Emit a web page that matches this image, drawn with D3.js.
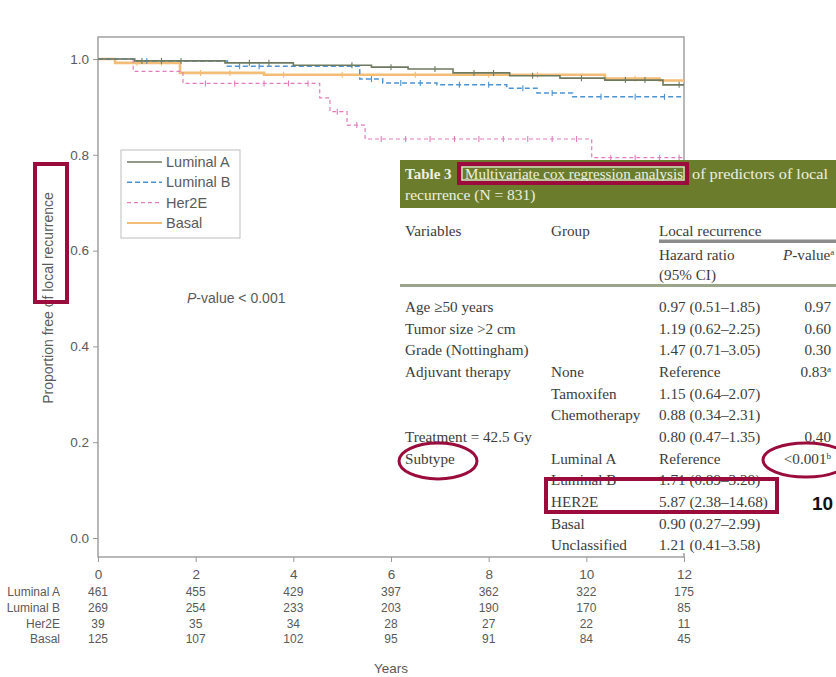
<!DOCTYPE html>
<html>
<head>
<meta charset="utf-8">
<script src="https://cdn.jsdelivr.net/npm/d3@7"></script>
<style>
  html, body { margin: 0; padding: 0; background: #fff; }
  svg { display: block; }
</style>
</head>
<body>
<svg id="chart" width="836" height="677"></svg>
<script>
// ---- Kaplan-Meier curves: event times (years) and survival proportions ----
const subtypes = ["Luminal A", "Luminal B", "Her2E", "Basal"];
const lumATimes = [0, 0.75, 2.6, 4.0, 5.6, 6.35, 7.27, 8.43, 9.46, 10.38, 11.57];
const lumAProps = [1.0, 0.996, 0.992, 0.987, 0.983, 0.979, 0.971, 0.965, 0.960, 0.956, 0.946];
const lumBTimes = [0, 0.75, 2.65, 5.36, 5.83, 6.94, 8.37, 8.99, 9.72];
const lumBProps = [1.0, 0.996, 0.985, 0.958, 0.950, 0.946, 0.939, 0.929, 0.921];
const her2eTimes = [0, 0.72, 1.74, 4.54, 4.75, 5.10, 5.47, 10.11];
const her2eProps = [1.0, 0.974, 0.949, 0.919, 0.890, 0.862, 0.833, 0.794];
const basalTimes = [0, 0.35, 1.68, 3.4, 10.38, 11.5];
const basalProps = [1.0, 0.992, 0.971, 0.967, 0.959, 0.955];

// censoring times
const lumACensor = [0.9, 1.3, 1.7, 3.1, 3.5, 5.2, 6.0, 6.9, 7.7, 8.1, 8.9, 9.9, 10.8, 11.2, 11.9];
const lumBCensor = [1.0, 2.9, 3.3, 5.6, 6.2, 6.6, 7.4, 8.0, 8.7, 9.3, 10.3, 11.0, 11.6];
const her2eCensor = [2.2, 2.8, 3.4, 3.9, 4.3, 4.9, 5.3, 5.8, 6.3, 6.8, 7.3, 7.8, 8.3, 8.8, 9.3, 9.8, 10.5, 11.0, 11.5, 11.9];
const basalCensor = [0.8, 1.3, 2.1, 2.7, 3.8, 5.0, 6.5, 8.0, 9.0, 11.0];

// ---- axes ----
const xTicks = [0, 2, 4, 6, 8, 10, 12];
const yTicks = [0.0, 0.2, 0.4, 0.6, 0.8, 1.0];

// ---- numbers at risk ----
const atRiskLumA = [461, 455, 429, 397, 362, 322, 175];
const atRiskLumB = [269, 254, 233, 203, 190, 170, 85];
const atRiskHer2E = [39, 35, 34, 28, 27, 22, 11];
const atRiskBasal = [125, 107, 102, 95, 91, 84, 45];

const pValueText = "P-value < 0.001";

// ---- Cox regression table ----
const tableLabel = "Table 3";
const tableTitleHighlight = "Multivariate cox regression analysis";
const tableTitleRest = "of predictors of local";
const tableTitleLine2 = "recurrence (N = 831)";
const tableVariables = ["Age \u226550 years", "Tumor size >2 cm", "Grade (Nottingham)", "Adjuvant therapy", "", "", "Treatment = 42.5 Gy", "Subtype", "", "", "", ""];
const tableGroups = ["", "", "", "None", "Tamoxifen", "Chemotherapy", "", "Luminal A", "Luminal B", "HER2E", "Basal", "Unclassified"];
const tableHazard = ["0.97 (0.51\u20131.85)", "1.19 (0.62\u20132.25)", "1.47 (0.71\u20133.05)", "Reference", "1.15 (0.64\u20132.07)", "0.88 (0.34\u20132.31)", "0.80 (0.47\u20131.35)", "Reference", "1.71 (0.89\u20133.28)", "5.87 (2.38\u201314.68)", "0.90 (0.27\u20132.99)", "1.21 (0.41\u20133.58)"];
const tablePValue = ["0.97", "0.60", "0.30", "0.83", "", "", "0.40", "<0.001", "", "", "", ""];
const tablePSup = ["", "", "", "a", "", "", "", "b", "", "", "", ""];

const svg = d3.select("#chart");
const sans = "'Liberation Sans', Arial, sans-serif";
const serif = "'Liberation Serif', 'Times New Roman', serif";
const grey = "#5a5a5a";

const plot = { left: 98, right: 684, top: 37, bottom: 557 };
const x = d3.scaleLinear().domain([0, 12]).range([98, 684]);
const y = d3.scaleLinear().domain([0, 1]).range([538, 59]);

const series = [
  { name: subtypes[0], t: lumATimes, s: lumAProps, c: lumACensor, color: "#6d7a5f", width: 1.6, dash: null },
  { name: subtypes[1], t: lumBTimes, s: lumBProps, c: lumBCensor, color: "#4d93d3", width: 1.5, dash: "5,3" },
  { name: subtypes[2], t: her2eTimes, s: her2eProps, c: her2eCensor, color: "#e47cbc", width: 1.2, dash: "4,3" },
  { name: subtypes[3], t: basalTimes, s: basalProps, c: basalCensor, color: "#f3bd78", width: 2.6, dash: null }
];

// plot frame
svg.append("rect")
  .attr("x", plot.left).attr("y", plot.top)
  .attr("width", plot.right - plot.left).attr("height", plot.bottom - plot.top)
  .attr("fill", "none").attr("stroke", "#9a9a9a").attr("stroke-width", 1.4);

// curves (basal first so the thinner lines sit on top)
const line = d3.line().x(d => x(d[0])).y(d => y(d[1])).curve(d3.curveStepAfter);
[3, 2, 1, 0].forEach(i => {
  const sr = series[i];
  const pts = sr.t.map((t, k) => [t, sr.s[k]]);
  pts.push([12, sr.s[sr.s.length - 1]]);
  svg.append("path")
    .attr("d", line(pts))
    .attr("fill", "none")
    .attr("stroke", sr.color)
    .attr("stroke-width", sr.width)
    .attr("stroke-dasharray", sr.dash);
  const survAt = tt => { let v = sr.s[0]; sr.t.forEach((t, k) => { if (t <= tt) v = sr.s[k]; }); return v; };
  svg.append("g").selectAll("line").data(sr.c).join("line")
    .attr("x1", d => x(d)).attr("x2", d => x(d))
    .attr("y1", d => y(survAt(d)) - 3).attr("y2", d => y(survAt(d)) + 3)
    .attr("stroke", sr.color).attr("stroke-width", 1.1);
});

// y axis
const yAxis = svg.append("g").attr("transform", `translate(${plot.left},0)`)
  .call(d3.axisLeft(y).tickValues(yTicks).tickFormat(d3.format(".1f")).tickSize(5).tickPadding(4));
yAxis.select(".domain").remove();
yAxis.selectAll("line").attr("stroke", "#9a9a9a");
yAxis.selectAll("text").attr("font-family", sans).attr("font-size", 13.5).attr("fill", grey);

// x axis
const xAxis = svg.append("g").attr("transform", `translate(0,${plot.bottom})`)
  .call(d3.axisBottom(x).tickValues(xTicks).tickFormat(d3.format("d")).tickSize(5).tickPadding(7));
xAxis.select(".domain").remove();
xAxis.selectAll("line").attr("stroke", "#9a9a9a");
xAxis.selectAll("text").attr("font-family", sans).attr("font-size", 13.5).attr("fill", grey);

// y axis title
svg.append("text")
  .attr("transform", "translate(53,298) rotate(-90)")
  .attr("text-anchor", "middle")
  .attr("font-family", sans).attr("font-size", 14).attr("fill", grey)
  .text("Proportion free of local recurrence");

// legend
const lg = svg.append("g");
lg.append("rect").attr("x", 121).attr("y", 150).attr("width", 119).attr("height", 88)
  .attr("fill", "#fff").attr("stroke", "#c8c8c8").attr("stroke-width", 1.2);
series.forEach((sr, i) => {
  const yy = 162 + i * 20.3;
  lg.append("line").attr("x1", 127).attr("x2", 162).attr("y1", yy).attr("y2", yy)
    .attr("stroke", sr.color).attr("stroke-width", Math.min(sr.width, 2)).attr("stroke-dasharray", sr.dash);
  lg.append("text").attr("x", 166).attr("y", yy + 5)
    .attr("font-family", sans).attr("font-size", 14.5).attr("fill", grey).text(sr.name);
});

// log-rank p value
const pt = svg.append("text").attr("x", 187).attr("y", 303)
  .attr("font-family", sans).attr("font-size", 14).attr("fill", grey);
pt.append("tspan").attr("font-style", "italic").text(pValueText.slice(0, 1));
pt.append("tspan").text(pValueText.slice(1));

// numbers at risk
const riskRows = [atRiskLumA, atRiskLumB, atRiskHer2E, atRiskBasal];
riskRows.forEach((row, i) => {
  const yy = 596 + i * 15.8;
  svg.append("text").attr("x", 60).attr("y", yy).attr("text-anchor", "end")
    .attr("font-family", sans).attr("font-size", 12).attr("fill", grey).text(subtypes[i]);
  svg.append("g").selectAll("text").data(row).join("text")
    .attr("x", (d, k) => x(xTicks[k])).attr("y", yy).attr("text-anchor", "middle")
    .attr("font-family", sans).attr("font-size", 12).attr("fill", grey).text(d => d);
});
svg.append("text").attr("x", x(6)).attr("y", 673).attr("text-anchor", "middle")
  .attr("font-family", sans).attr("font-size", 13.5).attr("fill", grey).text("Years");

// ---- regression table panel ----
const tb = svg.append("g");
const ink = "#3c3c3c";
const head = "#eef0e0";
const fs = 15.2;
tb.append("rect").attr("x", 400).attr("y", 160).attr("width", 436).attr("height", 393).attr("fill", "#fff");
tb.append("rect").attr("x", 400).attr("y", 160).attr("width", 436).attr("height", 48).attr("fill", "#6b7d2c");
tb.append("text").attr("x", 405).attr("y", 179).attr("font-family", serif).attr("font-weight", "bold")
  .attr("font-size", 15).attr("fill", head).text(tableLabel);
tb.append("text").attr("x", 465).attr("y", 179).attr("font-family", serif).attr("font-size", 15.5)
  .attr("textLength", 218).attr("lengthAdjust", "spacingAndGlyphs").attr("fill", head).text(tableTitleHighlight);
tb.append("text").attr("x", 692).attr("y", 179).attr("font-family", serif).attr("font-size", 15.5)
  .attr("textLength", 136).attr("lengthAdjust", "spacingAndGlyphs").attr("fill", head).text(tableTitleRest);
tb.append("text").attr("x", 405).attr("y", 200).attr("font-family", serif).attr("font-size", 15.5)
  .attr("fill", head).text(tableTitleLine2);

const colX = [405, 551, 659, 831];
const cell = (xx, yy, t) => tb.append("text").attr("x", xx).attr("y", yy)
  .attr("font-family", serif).attr("font-size", fs).attr("fill", ink).text(t);
cell(colX[0], 236, "Variables");
cell(colX[1], 236, "Group");
cell(colX[2], 236, "Local recurrence");
tb.append("rect").attr("x", 659).attr("y", 239.5).attr("width", 177).attr("height", 3.5).attr("fill", "#8c8c8c");
cell(colX[2], 260, "Hazard ratio");
cell(colX[2], 280, "(95% CI)");
const ph = tb.append("text").attr("x", 783).attr("y", 260).attr("font-family", serif).attr("font-size", fs).attr("fill", ink);
ph.append("tspan").attr("font-style", "italic").text("P");
ph.append("tspan").text("-value");
ph.append("tspan").attr("font-size", 9).attr("dy", -5).text("a");
tb.append("rect").attr("x", 400).attr("y", 284).attr("width", 436).attr("height", 3).attr("fill", "#9aa58a");

tableVariables.forEach((v, i) => {
  const yy = 312 + i * 21.65;
  cell(colX[0], yy, v);
  cell(colX[1], yy, tableGroups[i]);
  cell(colX[2], yy, tableHazard[i]);
  if (tablePValue[i]) {
    const p = tb.append("text").attr("x", colX[3]).attr("y", yy).attr("text-anchor", "end")
      .attr("font-family", serif).attr("font-size", fs).attr("fill", ink);
    p.append("tspan").text(tablePValue[i]);
    if (tablePSup[i]) p.append("tspan").attr("font-size", 9).attr("dy", -5).text(tablePSup[i]);
  }
});

// ---- highlight marks ----
const mark = "#9b0b3b";
const hl = svg.append("g").attr("fill", "none").attr("stroke", mark);
hl.append("rect").attr("x", 35).attr("y", 164).attr("width", 32).attr("height", 138).attr("stroke-width", 4);
hl.append("rect").attr("x", 459).attr("y", 164).attr("width", 228).attr("height", 19).attr("stroke-width", 4);
hl.append("rect").attr("x", 462).attr("y", 167).attr("width", 222).attr("height", 13).attr("stroke", head).attr("stroke-width", 1.2);
hl.append("rect").attr("x", 546).attr("y", 479).attr("width", 231).attr("height", 33).attr("stroke-width", 4);
hl.append("ellipse").attr("cx", 438).attr("cy", 461).attr("rx", 39).attr("ry", 18).attr("stroke-width", 3);
hl.append("ellipse").attr("cx", 806).attr("cy", 460).attr("rx", 43).attr("ry", 17).attr("stroke-width", 3);
svg.append("text").attr("x", 812).attr("y", 510).attr("font-family", sans).attr("font-weight", "bold")
  .attr("font-size", 19).attr("fill", "#111").text("10");
</script>
</body>
</html>
